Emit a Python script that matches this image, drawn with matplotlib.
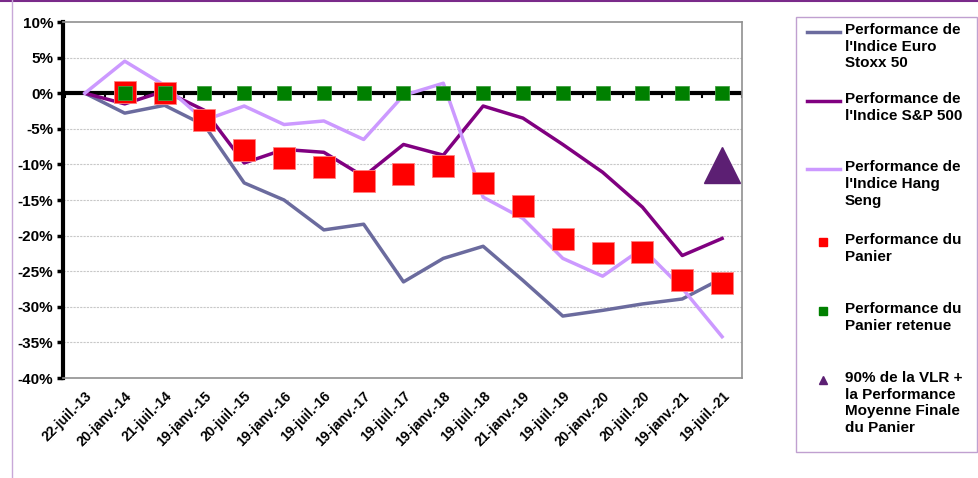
import numpy as np
import matplotlib.pyplot as plt
from matplotlib.lines import Line2D
from matplotlib.patches import Rectangle
from matplotlib.ticker import FuncFormatter, MultipleLocator

plt.rcParams['font.family'] = ['Liberation Sans', 'DejaVu Sans']
plt.rcParams['font.weight'] = 'bold'

# data (values in %)
dates = ['22-juil.-13', '20-janv.-14', '21-juil.-14', '19-janv.-15', '20-juil.-15',
         '19-janv.-16', '19-juil.-16', '19-janv.-17', '19-juil.-17', '19-janv.-18',
         '19-juil.-18', '21-janv.-19', '19-juil.-19', '20-janv.-20', '20-juil.-20',
         '19-janv.-21', '19-juil.-21']
euro_stoxx = [0, -2.8, -1.7, -4.5, -12.6, -15.0, -19.2, -18.4, -26.5, -23.2, -21.5,
              -26.3, -31.3, -30.5, -29.6, -28.9, -26.0]
sp500 = [0, -1.5, 0.3, -2.4, -9.8, -7.9, -8.3, -11.7, -7.2, -8.7, -1.8,
         -3.5, -7.2, -11.1, -16.0, -22.8, -20.4]
hang_seng = [0, 4.5, 1.1, -3.8, -1.8, -4.4, -3.9, -6.5, -0.3, 1.4, -14.6,
             -17.6, -23.2, -25.7, -21.8, -27.4, -34.2]
panier = [None, 0.2, 0.0, -3.8, -8.0, -9.1, -10.4, -12.4, -11.4, -10.2, -12.6,
          -15.9, -20.5, -22.5, -22.3, -26.3, -26.6]
panier_retenue = [None, 0, 0, 0, 0, 0, 0, 0, 0, 0, 0, 0, 0, 0, 0, 0, 0]
vlr_final = -10.1

labels = ["Performance de\nl'Indice Euro\nStoxx 50",
          "Performance de\nl'Indice S&P 500",
          "Performance de\nl'Indice Hang\nSeng",
          "Performance du\nPanier",
          "Performance du\nPanier retenue",
          "90% de la VLR +\nla Performance\nMoyenne Finale\ndu Panier"]

c_euro = '#6b6b9e'
c_sp = '#800080'
c_hs = '#cc99ff'
c_red = '#ff0000'
c_green = '#008000'
c_tri = '#5c1f73'

W, H = 979, 478
fig = plt.figure(figsize=(W / 100, H / 100), dpi=100)
ax = fig.add_axes([63 / W, 1 - 378 / H, (742 - 63) / W, (378 - 22) / H])

x = np.arange(len(dates))
pan = np.array([np.nan if v is None else v for v in panier], dtype=float)
ret = np.array([np.nan if v is None else v for v in panier_retenue], dtype=float)

for v in range(-35, 10, 5):
    if v != 0:
        ax.axhline(v, color='#c8c8c8', lw=0.8, ls=(0, (2, 1)), zorder=0)
ax.axhline(0, color='black', lw=3, zorder=1)
for xi in np.arange(-0.5, len(dates), 1):
    ax.plot([xi, xi], [0, -0.6], color='black', lw=1.5, zorder=1)

ax.plot(x, euro_stoxx, color=c_euro, lw=2.5, zorder=2)
ax.plot(x, sp500, color=c_sp, lw=2.5, zorder=2)
ax.plot(x, hang_seng, color=c_hs, lw=2.5, zorder=2)
ax.plot(x, pan, ls='none', marker='s', ms=16, color=c_red, mec='#ff8080', mew=0.6, zorder=3)
ax.plot(x, ret, ls='none', marker='s', ms=10, color=c_green, mec='#40a040', mew=0.6, zorder=4)
ax.plot([x[-1]], [vlr_final], ls='none', marker='^', ms=26, color=c_tri, zorder=4)

ax.set_xlim(-0.55, len(dates) - 0.5)
ax.set_ylim(-40, 10)
ax.yaxis.set_major_locator(MultipleLocator(5))
ax.yaxis.set_major_formatter(FuncFormatter(lambda v, p: f'{v:.0f}%'))
ax.set_xticks(x)
ax.set_xticklabels(dates, rotation=45, ha='right', rotation_mode='anchor', fontsize=10, fontweight='bold')
ax.tick_params(axis='x', length=0, pad=8)
ax.tick_params(axis='y', labelsize=11, length=4, width=2.5, direction='out', pad=3)
for lab in ax.get_yticklabels():
    lab.set_fontweight('bold')

ax.spines['left'].set_linewidth(3)
ax.spines['left'].set_color('black')
for s in ['top', 'right', 'bottom']:
    ax.spines[s].set_color('#909090')
    ax.spines[s].set_linewidth(1.2)

# legend drawn manually to mimic the spacing of the original
fig.patches.append(Rectangle((796 / W, 1 - 452 / H), (977 - 796) / W, (452 - 17) / H,
                             transform=fig.transFigure, fill=False, ec='#c0a0d0', lw=1))
entry_y = [32, 101, 169, 242, 311, 380]
for i, (lab, ey) in enumerate(zip(labels, entry_y)):
    yf = 1 - ey / H
    if i < 3:
        col = [c_euro, c_sp, c_hs][i]
        fig.lines.append(Line2D([807 / W, 840 / W], [yf, yf], transform=fig.transFigure,
                                color=col, lw=2.5))
    else:
        col = [c_red, c_green, c_tri][i - 3]
        mk = 's' if i < 5 else '^'
        fig.lines.append(Line2D([823 / W], [yf], transform=fig.transFigure, ls='none',
                                marker=mk, ms=6, color=col))
    fig.text(845 / W, yf + 9 / H, lab, ha='left', va='top', fontsize=11, fontweight='bold',
             linespacing=1.25)

# outer frame lines
fig.lines.append(Line2D([0, 1], [1 - 0.5 / H, 1 - 0.5 / H], transform=fig.transFigure, color='#7a2a8a', lw=1.5))
fig.lines.append(Line2D([12.5 / W, 12.5 / W], [0, 1], transform=fig.transFigure, color='#c8a8d8', lw=1))

fig.savefig('out.png', dpi=100)
